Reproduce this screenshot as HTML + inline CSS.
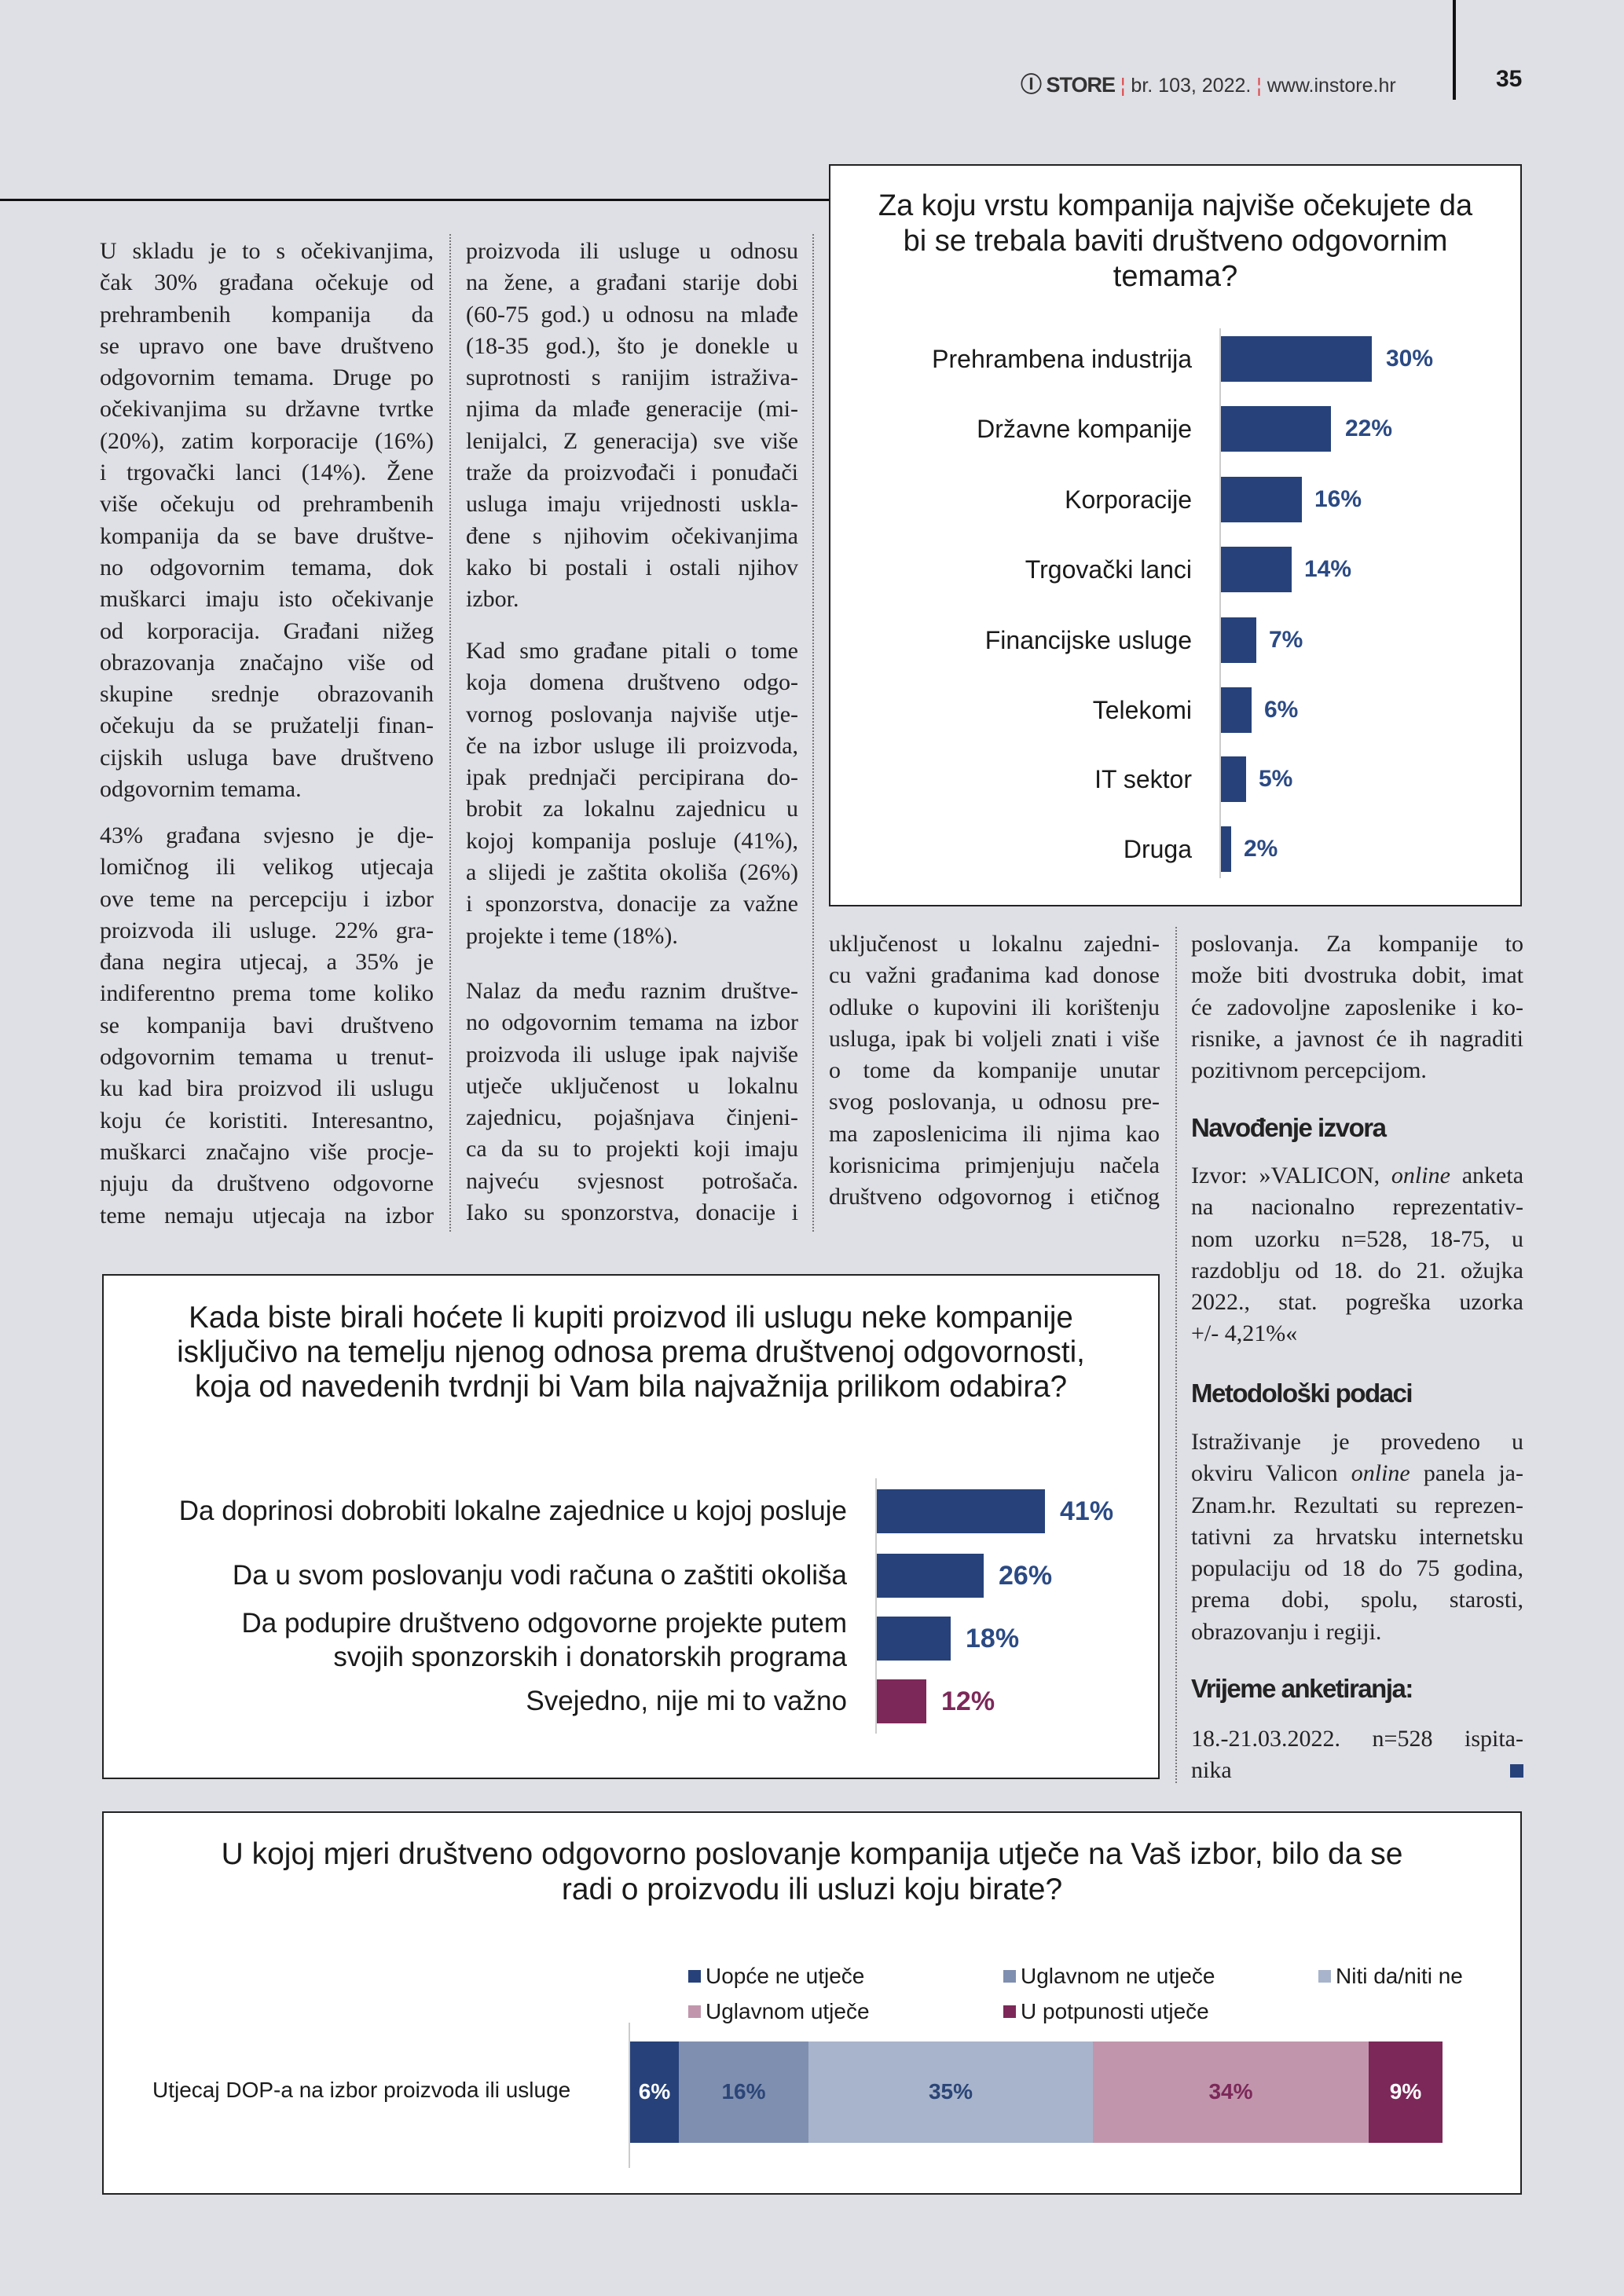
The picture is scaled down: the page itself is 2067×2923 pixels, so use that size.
<!DOCTYPE html>
<html><head><meta charset="utf-8">
<style>
*{margin:0;padding:0;box-sizing:border-box}
body{width:2067px;height:2923px;background:#dfdfe6;position:relative;overflow:hidden;font-family:"Liberation Sans",sans-serif;color:#1a1a1a}
.a{position:absolute}
.col{position:absolute;font-family:"Liberation Serif",serif;font-size:30px;line-height:40.3px;color:#222}
.col div{text-align:justify;text-align-last:justify;white-space:nowrap;overflow:visible}
.col div.e{text-align-last:left}
.h{position:absolute;font-weight:bold;font-size:33px;letter-spacing:-1.5px;color:#222}
.box{position:absolute;background:#fff;border:2.5px solid #222}
.t{position:absolute;text-align:center;font-size:38px;line-height:45px;color:#1a1a1a}
.rl{position:absolute;text-align:right;font-size:32px;line-height:36px}
.bar{position:absolute}
.v{position:absolute;font-weight:bold;color:#2b4a84}
.dot{position:absolute;border-left:2px dotted #777;width:0}
</style></head><body>

<div class="a" style="left:1299px;top:86px;font-size:25px;color:#333;white-space:nowrap"><b style="font-size:27px;letter-spacing:-1px">Ⓘ STORE</b> <span style="color:#d44">¦</span> br. 103, 2022. <span style="color:#d44">¦</span> www.instore.hr</div>
<div class="a" style="left:1904px;top:84px;font-size:30px;font-weight:bold">35</div>
<div class="a" style="left:1849px;top:0;width:4px;height:127px;background:#111"></div>
<div class="a" style="left:0;top:253px;width:1055px;height:3px;background:#111"></div>

<div class="dot" style="left:572px;top:298px;height:1270px"></div>
<div class="dot" style="left:1034px;top:298px;height:1270px"></div>
<div class="dot" style="left:1496px;top:1180px;height:1090px"></div>

<div class="col" style="left:127px;top:300px;width:425px">
<div>U skladu je to s očekivanjima,</div><div>čak 30% građana očekuje od</div><div>prehrambenih kompanija da</div><div>se upravo one bave društveno</div><div>odgovornim temama. Druge po</div><div>očekivanjima su državne tvrtke</div><div>(20%), zatim korporacije (16%)</div><div>i trgovački lanci (14%). Žene</div><div>više očekuju od prehrambenih</div><div>kompanija da se bave društve-</div><div>no odgovornim temama, dok</div><div>muškarci imaju isto očekivanje</div><div>od korporacija. Građani nižeg</div><div>obrazovanja značajno više od</div><div>skupine srednje obrazovanih</div><div>očekuju da se pružatelji finan-</div><div>cijskih usluga bave društveno</div><div class="e">odgovornim temama.</div>
</div>
<div class="col" style="left:127px;top:1044px;width:425px">
<div>43% građana svjesno je dje-</div><div>lomičnog ili velikog utjecaja</div><div>ove teme na percepciju i izbor</div><div>proizvoda ili usluge. 22% gra-</div><div>đana negira utjecaj, a 35% je</div><div>indiferentno prema tome koliko</div><div>se kompanija bavi društveno</div><div>odgovornim temama u trenut-</div><div>ku kad bira proizvod ili uslugu</div><div>koju će koristiti. Interesantno,</div><div>muškarci značajno više procje-</div><div>njuju da društveno odgovorne</div><div>teme nemaju utjecaja na izbor</div>
</div>
<div class="col" style="left:593px;top:300px;width:423px">
<div>proizvoda ili usluge u odnosu</div><div>na žene, a građani starije dobi</div><div>(60-75 god.) u odnosu na mlađe</div><div>(18-35 god.), što je donekle u</div><div>suprotnosti s ranijim istraživa-</div><div>njima da mlađe generacije (mi-</div><div>lenijalci, Z generacija) sve više</div><div>traže da proizvođači i ponuđači</div><div>usluga imaju vrijednosti uskla-</div><div>đene s njihovim očekivanjima</div><div>kako bi postali i ostali njihov</div><div class="e">izbor.</div>
</div>
<div class="col" style="left:593px;top:809px;width:423px">
<div>Kad smo građane pitali o tome</div><div>koja domena društveno odgo-</div><div>vornog poslovanja najviše utje-</div><div>če na izbor usluge ili proizvoda,</div><div>ipak prednjači percipirana do-</div><div>brobit za lokalnu zajednicu u</div><div>kojoj kompanija posluje (41%),</div><div>a slijedi je zaštita okoliša (26%)</div><div>i sponzorstva, donacije za važne</div><div class="e">projekte i teme (18%).</div>
</div>
<div class="col" style="left:593px;top:1242px;width:423px">
<div>Nalaz da među raznim društve-</div><div>no odgovornim temama na izbor</div><div>proizvoda ili usluge ipak najviše</div><div>utječe uključenost u lokalnu</div><div>zajednicu, pojašnjava činjeni-</div><div>ca da su to projekti koji imaju</div><div>najveću svjesnost potrošača.</div><div>Iako su sponzorstva, donacije i</div>
</div>
<div class="col" style="left:1055px;top:1182px;width:421px">
<div>uključenost u lokalnu zajedni-</div><div>cu važni građanima kad donose</div><div>odluke o kupovini ili korištenju</div><div>usluga, ipak bi voljeli znati i više</div><div>o tome da kompanije unutar</div><div>svog poslovanja, u odnosu pre-</div><div>ma zaposlenicima ili njima kao</div><div>korisnicima primjenjuju načela</div><div>društveno odgovornog i etičnog</div>
</div>
<div class="col" style="left:1516px;top:1182px;width:423px">
<div>poslovanja. Za kompanije to</div><div>može biti dvostruka dobit, imat</div><div>će zadovoljne zaposlenike i ko-</div><div>risnike, a javnost će ih nagraditi</div><div class="e">pozitivnom percepcijom.</div>
</div>
<div class="h" style="left:1516px;top:1417px">Navođenje izvora</div>
<div class="col" style="left:1516px;top:1477px;width:423px">
<div>Izvor: »VALICON, <i>online</i> anketa</div><div>na nacionalno reprezentativ-</div><div>nom uzorku n=528, 18-75, u</div><div>razdoblju od 18. do 21. ožujka</div><div>2022., stat. pogreška uzorka</div><div class="e">+/- 4,21%«</div>
</div>
<div class="h" style="left:1516px;top:1755px">Metodološki podaci</div>
<div class="col" style="left:1516px;top:1816px;width:423px">
<div>Istraživanje je provedeno u</div><div>okviru Valicon <i>online</i> panela ja-</div><div>Znam.hr. Rezultati su reprezen-</div><div>tativni za hrvatsku internetsku</div><div>populaciju od 18 do 75 godina,</div><div>prema dobi, spolu, starosti,</div><div class="e">obrazovanju i regiji.</div>
</div>
<div class="h" style="left:1516px;top:2131px">Vrijeme anketiranja:</div>
<div class="col" style="left:1516px;top:2194px;width:423px">
<div>18.-21.03.2022. n=528 ispita-</div><div class="e">nika</div>
</div>
<div class="a" style="left:1922px;top:2246px;width:17px;height:17px;background:#27427a"></div>

<!-- Chart 1 -->
<div class="box" style="left:1055px;top:209px;width:882px;height:945px"></div>
<div class="t" style="left:1055px;top:240px;width:882px">Za koju vrstu kompanija najviše očekujete da<br>bi se trebala baviti društveno odgovornim<br>temama?</div>
<div class="a" style="left:1552px;top:418px;width:2px;height:700px;background:#ccc"></div>
<div class="rl" style="right:550px;top:439px">Prehrambena industrija</div>
<div class="rl" style="right:550px;top:528px">Državne kompanije</div>
<div class="rl" style="right:550px;top:618px">Korporacije</div>
<div class="rl" style="right:550px;top:707px">Trgovački lanci</div>
<div class="rl" style="right:550px;top:797px">Financijske usluge</div>
<div class="rl" style="right:550px;top:886px">Telekomi</div>
<div class="rl" style="right:550px;top:974px">IT sektor</div>
<div class="rl" style="right:550px;top:1063px">Druga</div>
<div class="bar" style="left:1554px;top:428px;width:192px;height:58px;background:#27427a"></div>
<div class="bar" style="left:1554px;top:517px;width:140px;height:58px;background:#27427a"></div>
<div class="bar" style="left:1554px;top:607px;width:103px;height:58px;background:#27427a"></div>
<div class="bar" style="left:1554px;top:696px;width:90px;height:58px;background:#27427a"></div>
<div class="bar" style="left:1554px;top:786px;width:45px;height:58px;background:#27427a"></div>
<div class="bar" style="left:1554px;top:875px;width:39px;height:58px;background:#27427a"></div>
<div class="bar" style="left:1554px;top:963px;width:32px;height:58px;background:#27427a"></div>
<div class="bar" style="left:1554px;top:1052px;width:13px;height:58px;background:#27427a"></div>
<div class="v" style="left:1764px;top:440px;font-size:30px">30%</div>
<div class="v" style="left:1712px;top:529px;font-size:30px">22%</div>
<div class="v" style="left:1673px;top:619px;font-size:30px">16%</div>
<div class="v" style="left:1660px;top:708px;font-size:30px">14%</div>
<div class="v" style="left:1615px;top:798px;font-size:30px">7%</div>
<div class="v" style="left:1609px;top:887px;font-size:30px">6%</div>
<div class="v" style="left:1602px;top:975px;font-size:30px">5%</div>
<div class="v" style="left:1583px;top:1064px;font-size:30px">2%</div>

<!-- Chart 2 -->
<div class="box" style="left:130px;top:1622px;width:1346px;height:643px"></div>
<div class="t" style="left:130px;top:1656px;width:1346px;line-height:44px;font-size:38.5px">Kada biste birali hoćete li kupiti proizvod ili uslugu neke kompanije<br>isključivo na temelju njenog odnosa prema društvenoj odgovornosti,<br>koja od navedenih tvrdnji bi Vam bila najvažnija prilikom odabira?</div>
<div class="a" style="left:1114px;top:1882px;width:2px;height:325px;background:#ccc"></div>
<div class="rl" style="right:989px;top:1904px;font-size:35px;line-height:40px">Da doprinosi dobrobiti lokalne zajednice u kojoj posluje</div>
<div class="rl" style="right:989px;top:1986px;font-size:35px;line-height:40px">Da u svom poslovanju vodi računa o zaštiti okoliša</div>
<div class="rl" style="right:989px;top:2045px;font-size:35px;line-height:43px">Da podupire društveno odgovorne projekte putem<br>svojih sponzorskih i donatorskih programa</div>
<div class="rl" style="right:989px;top:2146px;font-size:35px;line-height:40px">Svejedno, nije mi to važno</div>
<div class="bar" style="left:1116px;top:1896px;width:214px;height:56px;background:#27427a"></div>
<div class="bar" style="left:1116px;top:1978px;width:136px;height:56px;background:#27427a"></div>
<div class="bar" style="left:1116px;top:2058px;width:94px;height:56px;background:#27427a"></div>
<div class="bar" style="left:1116px;top:2138px;width:63px;height:56px;background:#7c2859"></div>
<div class="v" style="left:1349px;top:1905px;font-size:34px">41%</div>
<div class="v" style="left:1271px;top:1987px;font-size:34px">26%</div>
<div class="v" style="left:1229px;top:2067px;font-size:34px">18%</div>
<div class="v" style="left:1198px;top:2147px;font-size:34px;color:#7c2859">12%</div>

<!-- Chart 3 -->
<div class="box" style="left:130px;top:2306px;width:1807px;height:488px"></div>
<div class="t" style="left:130px;top:2338px;width:1807px;line-height:45px;font-size:39px">U kojoj mjeri društveno odgovorno poslovanje kompanija utječe na Vaš izbor, bilo da se<br>radi o proizvodu ili usluzi koju birate?</div>
<div class="a" style="left:876px;top:2508px;width:16px;height:16px;background:#27427a"></div>
<div class="a" style="left:898px;top:2500px;font-size:28px">Uopće ne utječe</div>
<div class="a" style="left:1277px;top:2508px;width:16px;height:16px;background:#7f8fb0"></div>
<div class="a" style="left:1299px;top:2500px;font-size:28px">Uglavnom ne utječe</div>
<div class="a" style="left:1678px;top:2508px;width:16px;height:16px;background:#a8b4cb"></div>
<div class="a" style="left:1700px;top:2500px;font-size:28px">Niti da/niti ne</div>
<div class="a" style="left:876px;top:2553px;width:16px;height:16px;background:#c196ad"></div>
<div class="a" style="left:898px;top:2545px;font-size:28px">Uglavnom utječe</div>
<div class="a" style="left:1277px;top:2553px;width:16px;height:16px;background:#7c2859"></div>
<div class="a" style="left:1299px;top:2545px;font-size:28px">U potpunosti utječe</div>
<div class="a" style="left:800px;top:2575px;width:2px;height:185px;background:#ccc"></div>
<div class="a" style="left:194px;top:2645px;font-size:28px">Utjecaj DOP-a na izbor proizvoda ili usluge</div>
<div class="bar" style="left:802px;top:2599px;width:62px;height:129px;background:#27427a"></div>
<div class="bar" style="left:864px;top:2599px;width:165px;height:129px;background:#7f8fb0"></div>
<div class="bar" style="left:1029px;top:2599px;width:362px;height:129px;background:#a8b4cb"></div>
<div class="bar" style="left:1391px;top:2599px;width:351px;height:129px;background:#c196ad"></div>
<div class="bar" style="left:1742px;top:2599px;width:94px;height:129px;background:#7c2859"></div>
<div class="v" style="left:802px;width:62px;text-align:center;top:2647px;font-size:28px;color:#fff">6%</div>
<div class="v" style="left:864px;width:165px;text-align:center;top:2647px;font-size:28px;color:#2b4577">16%</div>
<div class="v" style="left:1029px;width:362px;text-align:center;top:2647px;font-size:28px;color:#2b4577">35%</div>
<div class="v" style="left:1391px;width:351px;text-align:center;top:2647px;font-size:28px;color:#7c2859">34%</div>
<div class="v" style="left:1742px;width:94px;text-align:center;top:2647px;font-size:28px;color:#fff">9%</div>
</body></html>
